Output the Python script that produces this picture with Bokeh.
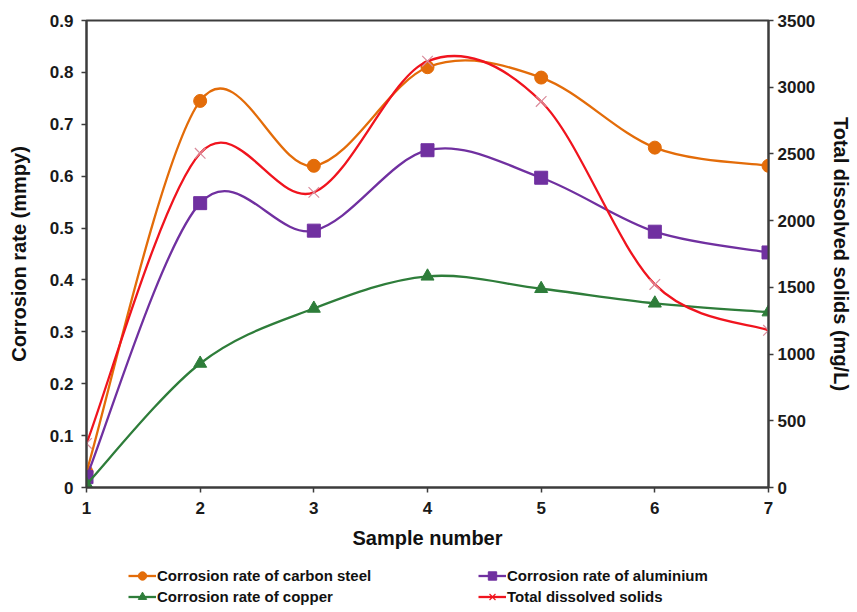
from bokeh.plotting import figure
from bokeh.models import Range1d, LinearAxis, Legend, LegendItem, FixedTicker
from bokeh.layouts import column
from bokeh.embed import file_html
from bokeh.resources import INLINE

# ---- data ----
samples = [1, 2, 3, 4, 5, 6, 7]
carbon_steel = [0.03, 0.745, 0.62, 0.81, 0.79, 0.655, 0.62]
aluminium = [0.02, 0.548, 0.495, 0.65, 0.597, 0.493, 0.453]
copper = [0.006, 0.239, 0.345, 0.407, 0.383, 0.355, 0.338]
tds = [330, 2505, 2212, 3195, 2893, 1522, 1178]

left_ticks = [0, 0.1, 0.2, 0.3, 0.4, 0.5, 0.6, 0.7, 0.8, 0.9]
left_tick_labels = ["0", "0.1", "0.2", "0.3", "0.4", "0.5", "0.6", "0.7", "0.8", "0.9"]
right_ticks = [0, 500, 1000, 1500, 2000, 2500, 3000, 3500]
x_ticks = [1, 2, 3, 4, 5, 6, 7]

FONT = "Liberation Sans"
AXIS_COLOR = "#3c3c3c"
ORANGE = "#E36C09"
PURPLE = "#7030A0"
GREEN = "#2E7D3A"
RED = "#F0141E"
TDS_MARK = "#D98C9C"

p = figure(frame_width=682, frame_height=467, output_backend="svg",
           toolbar_location=None,
           x_range=Range1d(1, 7), y_range=Range1d(0, 0.9),
           min_border_left=86, min_border_right=81, min_border_top=20,
           min_border_bottom=66)
p.extra_y_ranges = {"tds": Range1d(0, 3500)}
p.xgrid.visible = False
p.ygrid.visible = False
p.outline_line_color = AXIS_COLOR
p.outline_line_width = 2
p.background_fill_color = "white"
p.border_fill_color = "white"


def style_axis(ax):
    ax.axis_line_color = AXIS_COLOR
    ax.axis_line_width = 2
    ax.major_tick_line_color = AXIS_COLOR
    ax.major_tick_line_width = 1.5
    ax.major_tick_in = 0
    ax.major_tick_out = 5
    ax.minor_tick_line_color = None
    ax.major_label_text_font = FONT
    ax.major_label_text_font_style = "bold"
    ax.major_label_text_font_size = "17px"
    ax.major_label_text_color = "#1a1a1a"
    ax.axis_label_text_font = FONT
    ax.axis_label_text_font_style = "bold"
    ax.axis_label_text_font_size = "20px"
    ax.axis_label_text_color = "#111111"


xa = p.xaxis[0]
style_axis(xa)
xa.ticker = FixedTicker(ticks=x_ticks)
xa.axis_label = "Sample number"
xa.major_label_standoff = 9
xa.axis_label_standoff = 10

ya = p.yaxis[0]
style_axis(ya)
ya.ticker = FixedTicker(ticks=left_ticks)
ya.major_label_overrides = {t: s for t, s in zip(left_ticks, left_tick_labels)}
ya.axis_label = "Corrosion rate (mmpy)"
ya.major_label_standoff = 8
ya.axis_label_standoff = 17

ra = LinearAxis(y_range_name="tds")
style_axis(ra)
ra.ticker = FixedTicker(ticks=right_ticks)
ra.axis_label = "Total dissolved solids (mg/L)"
ra.major_label_standoff = 4
ra.axis_label_standoff = 12
p.add_layout(ra, "right")


def smooth(xs, ys, k=1.0 / 6.0):
    """Excel-like smoothed line: cubic Bezier control points from neighbours."""
    n = len(xs)
    out = dict(x0=[], y0=[], x1=[], y1=[], cx0=[], cy0=[], cx1=[], cy1=[])
    for i in range(n - 1):
        a = max(i - 1, 0)
        b = min(i + 2, n - 1)
        out["x0"].append(xs[i]); out["y0"].append(ys[i])
        out["x1"].append(xs[i + 1]); out["y1"].append(ys[i + 1])
        out["cx0"].append(xs[i] + (xs[i + 1] - xs[a]) * k)
        out["cy0"].append(ys[i] + (ys[i + 1] - ys[a]) * k)
        out["cx1"].append(xs[i + 1] - (xs[b] - xs[i]) * k)
        out["cy1"].append(ys[i + 1] - (ys[b] - ys[i]) * k)
    return out


series = [
    ("Corrosion rate of carbon steel", carbon_steel, ORANGE, "circle", 13, ORANGE, "default"),
    ("Corrosion rate of aluminium", aluminium, PURPLE, "square", 13, PURPLE, "default"),
    ("Corrosion rate of copper", copper, GREEN, "triangle", 13, GREEN, "default"),
    ("Total dissolved solids", tds, RED, "x", 15, TDS_MARK, "tds"),
]

for label, ys, col, marker, size, mcol, rng in series:
    seg = smooth(samples, ys)
    kw = {} if rng == "default" else {"y_range_name": rng}
    p.bezier(x0=seg["x0"], y0=seg["y0"], x1=seg["x1"], y1=seg["y1"],
             cx0=seg["cx0"], cy0=seg["cy0"], cx1=seg["cx1"], cy1=seg["cy1"],
             line_color=col, line_width=2.3, **kw)
    if marker == "x":
        p.scatter(samples, ys, marker="x", size=size, line_color=mcol,
                  line_width=1.2, **kw)
    else:
        p.scatter(samples, ys, marker=marker, size=size, fill_color=mcol,
                  line_color=mcol, **kw)

# ---- legend strip below the chart (its frame is aligned with the chart's) ----
lp = figure(width=849, height=54, output_backend="svg", toolbar_location=None,
            x_range=Range1d(0, 1), y_range=Range1d(0, 1),
            x_axis_type=None, y_axis_type=None,
            min_border_left=0, min_border_right=0, min_border_top=0,
            min_border_bottom=0)
lp.xgrid.visible = False
lp.ygrid.visible = False
lp.outline_line_color = None
lp.border_fill_color = "white"

items = {}
for label, ys, col, marker, size, mcol, rng in series:
    # sample glyphs for the key, parked outside the visible strip
    lr = lp.line(x=[-10, -9], y=[-10, -10], line_color=col, line_width=2.3)
    if marker == "x":
        mr = lp.scatter(x=[-10], y=[-10], marker="x", size=11,
                        line_color=RED, line_width=1.2)
    else:
        mr = lp.scatter(x=[-10], y=[-10], marker=marker, size=10,
                        fill_color=mcol, line_color=mcol)
    items[label] = LegendItem(label=label, renderers=[lr, mr])


def make_legend(labels, x):
    lg = Legend(items=[items[l] for l in labels], location=(x, 0),
                orientation="vertical", padding=0, spacing=0, margin=0,
                glyph_width=28, glyph_height=21, label_height=21,
                label_standoff=1, label_text_font=FONT,
                label_text_font_size="15px", label_text_font_style="bold",
                label_text_color="#111111",
                background_fill_alpha=0, border_line_color=None)
    lp.add_layout(lg, "center")


make_legend(["Corrosion rate of carbon steel", "Corrosion rate of copper"], 42)
make_legend(["Corrosion rate of aluminium", "Total dissolved solids"], 392)

open("out.html", "w").write(file_html(column(p, lp), INLINE))
